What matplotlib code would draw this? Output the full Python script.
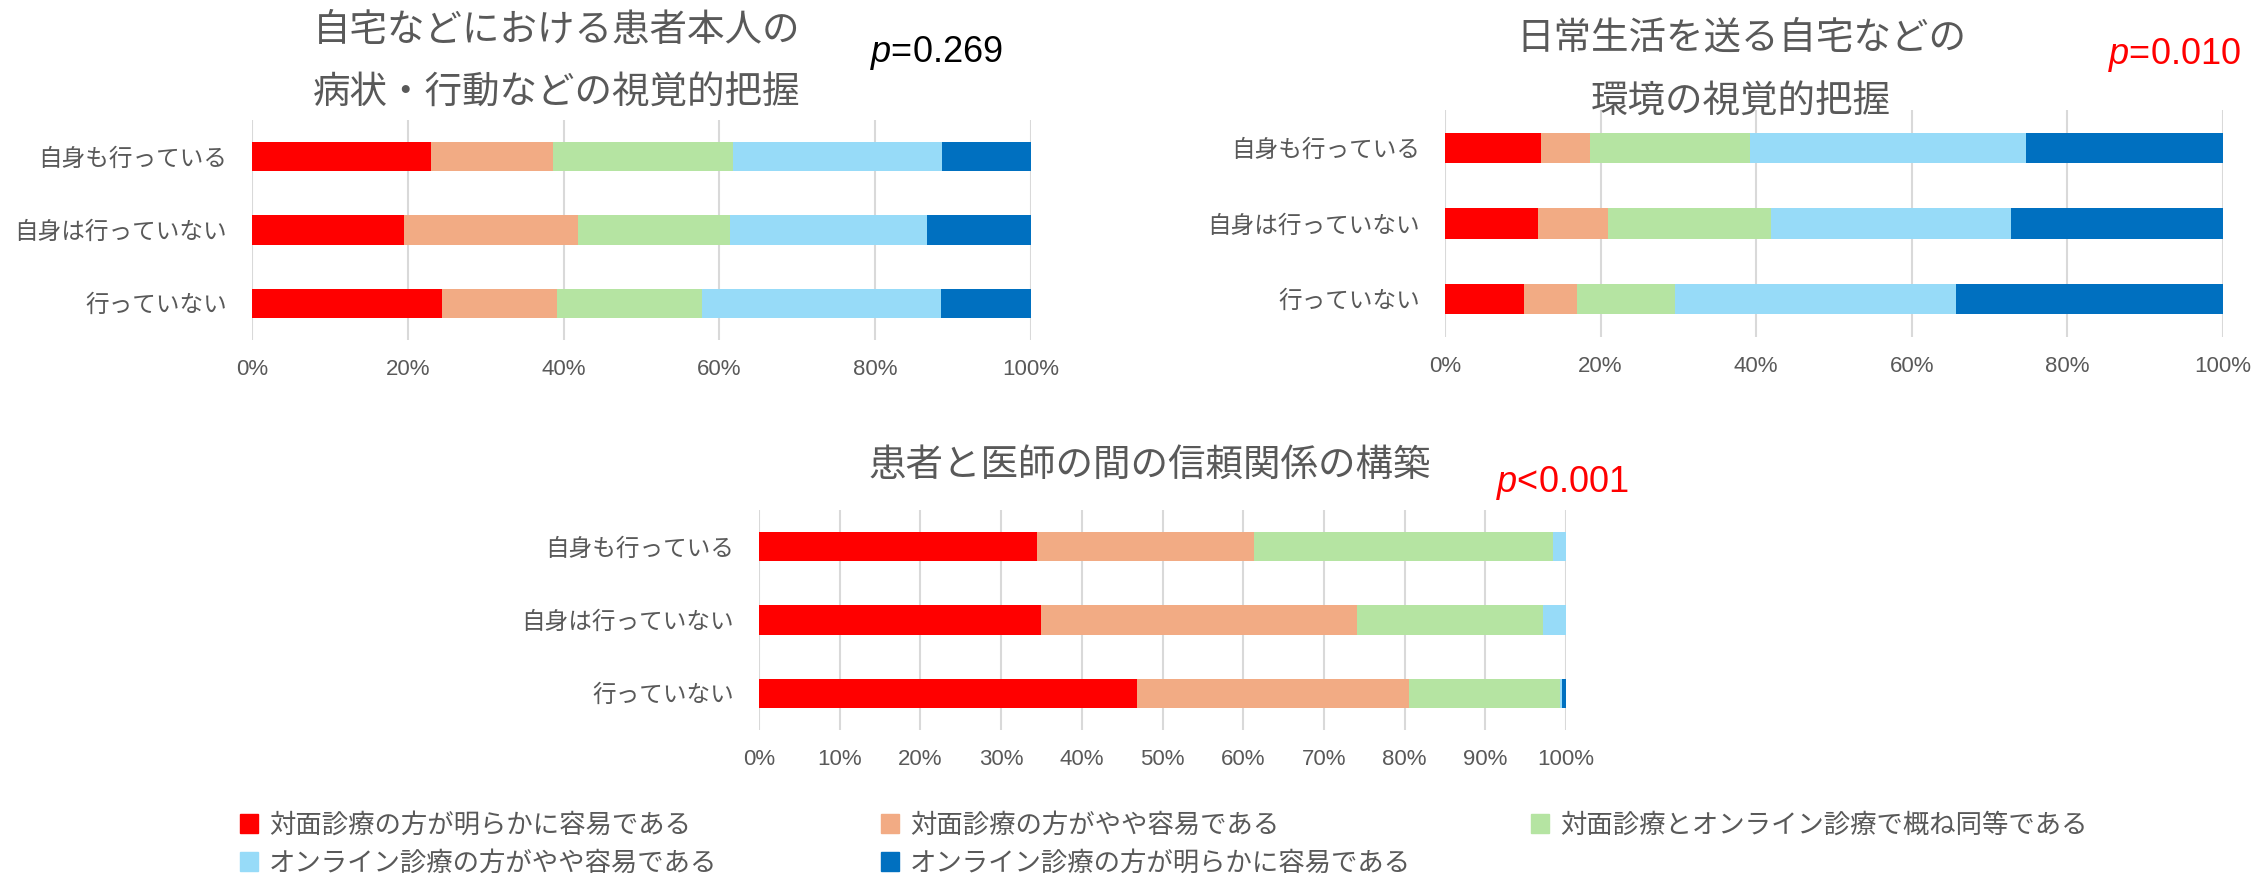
import matplotlib
matplotlib.use('Agg')
import matplotlib.pyplot as plt
import numpy as np
from matplotlib.patches import Patch

plt.rcParams['font.family'] = ['Noto Sans CJK JP', 'DejaVu Sans']
plt.rcParams['mathtext.fontset'] = 'custom'
plt.rcParams['mathtext.it'] = 'Liberation Sans:italic'
plt.rcParams['mathtext.rm'] = 'Liberation Sans'

# categories (top to bottom)
groups = ['自身も行っている', '自身は行っていない', '行っていない']

# answer categories
answers = ['対面診療の方が明らかに容易である',
           '対面診療の方がやや容易である',
           '対面診療とオンライン診療で概ね同等である',
           'オンライン診療の方がやや容易である',
           'オンライン診療の方が明らかに容易である']

# % per group, one list per answer
symptoms = [[23.0, 19.5, 24.4],
            [15.6, 22.3, 14.8],
            [23.1, 19.6, 18.6],
            [26.9, 25.3, 30.6],
            [11.4, 13.3, 11.6]]

environment = [[12.3, 11.9, 10.2],
               [6.4, 9.0, 6.8],
               [20.5, 21.0, 12.5],
               [35.5, 30.8, 36.2],
               [25.3, 27.3, 34.3]]

trust = [[34.4, 34.9, 46.8],
         [26.9, 39.2, 33.8],
         [37.1, 23.1, 18.6],
         [1.6, 2.8, 0.3],
         [0.0, 0.0, 0.5]]

titles = ['自宅などにおける患者本人の\n病状・行動などの視覚的把握',
          '日常生活を送る自宅などの\n環境の視覚的把握',
          '患者と医師の間の信頼関係の構築']
pvalues = [r'$p$=0.269', r'$p$=0.010', r'$p$<0.001']
pcolors = ['black', 'red', 'red']

colors = ['#FF0000', '#F2AB84', '#B5E4A2', '#97DBF8', '#0070C0']
gray = '#595959'
latin = ['Liberation Sans', 'DejaVu Sans']

W, H = 2260, 873
fig = plt.figure(figsize=(W / 100, H / 100), dpi=100)


def px_axes(x0, x1, y0, y1):
    return fig.add_axes([x0 / W, 1 - y1 / H, (x1 - x0) / W, (y1 - y0) / H])


def draw(ax, data, step):
    y = np.arange(len(groups))
    left = np.zeros(len(groups))
    for vals, c in zip(data, colors):
        ax.barh(y, vals, left=left, height=0.4, color=c, zorder=3)
        left += np.array(vals)
    ax.set_xlim(0, 100)
    ax.set_ylim(len(groups) - 0.5, -0.5)
    ax.set_yticks(y)
    ax.set_yticklabels(groups, fontsize=17, color=gray)
    ticks = np.arange(0, 101, step)
    ax.set_xticks(ticks)
    ax.set_xticklabels([f'{t}%' for t in ticks], fontsize=16, color=gray, family=latin)
    ax.tick_params(length=0)
    ax.tick_params(axis='y', pad=18)
    ax.tick_params(axis='x', pad=14)
    ax.grid(axis='x', color='#D9D9D9', linewidth=1.5, zorder=0)
    for s in ax.spines.values():
        s.set_visible(False)


ax1 = px_axes(252, 1031, 120, 340)
draw(ax1, symptoms, 20)
ax2 = px_axes(1445, 2223, 110, 337)
draw(ax2, environment, 20)
ax3 = px_axes(759, 1566, 510, 730)
draw(ax3, trust, 10)

# titles
t1 = titles[0].split('\n')
t2 = titles[1].split('\n')
fig.text(557 / W, 1 - 30 / H, t1[0], ha='center', va='center', fontsize=27, color=gray)
fig.text(557 / W, 1 - 93 / H, t1[1], ha='center', va='center', fontsize=27, color=gray)
fig.text(1741 / W, 1 - 38 / H, t2[0], ha='center', va='center', fontsize=27, color=gray)
fig.text(1741 / W, 1 - 102 / H, t2[1], ha='center', va='center', fontsize=27, color=gray)
fig.text(1150 / W, 1 - 465 / H, titles[2], ha='center', va='center', fontsize=27, color=gray)

# p values
fig.text(870 / W, 1 - 53 / H, pvalues[0], ha='left', va='center', fontsize=26,
         color=pcolors[0], family=latin)
fig.text(2108 / W, 1 - 55 / H, pvalues[1], ha='left', va='center', fontsize=26,
         color=pcolors[1], family=latin)
fig.text(1496 / W, 1 - 483 / H, pvalues[2], ha='left', va='center', fontsize=26,
         color=pcolors[2], family=latin)

# legend, row-major layout
col_x = [240, 881, 1531]
row_y = [825, 863]
for i, (lab, c) in enumerate(zip(answers, colors)):
    r, k = divmod(i, 3)
    fig.legend(handles=[Patch(color=c, label=lab)], loc='center left',
               bbox_to_anchor=(col_x[k] / W, 1 - row_y[r] / H), frameon=False,
               fontsize=19, labelcolor=gray, handlelength=0.7, handleheight=0.7,
               handletextpad=0.4, borderaxespad=0, borderpad=0)

fig.savefig('out.png', dpi=100)
